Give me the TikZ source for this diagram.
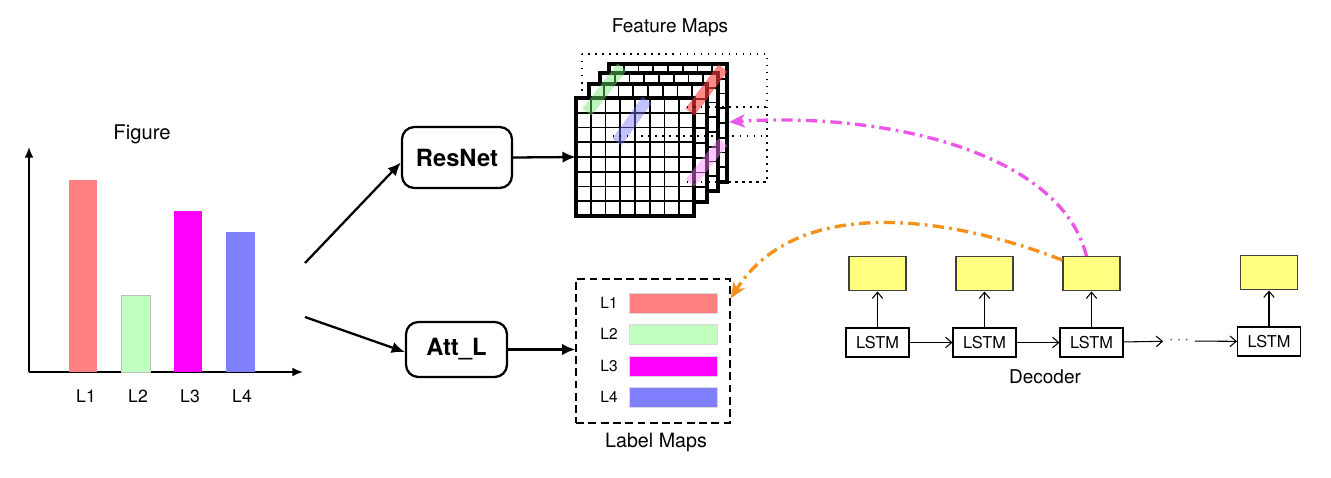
\documentclass[tikz,border=0pt]{standalone}
\usepackage{fontspec}
\setmainfont{TeX Gyre Heros}
\usepackage{tikz}
\usetikzlibrary{positioning,arrows.meta}

\definecolor{barred}{RGB}{255,128,128}
\definecolor{bargreen}{RGB}{192,255,192}
\definecolor{barmag}{RGB}{255,0,255}
\definecolor{barblue}{RGB}{128,128,255}
\definecolor{cellyellow}{RGB}{255,255,128}
\definecolor{attnpink}{RGB}{236,85,232}
\definecolor{attnorange}{RGB}{245,145,25}

\begin{document}
\begin{tikzpicture}[x=0.02cm,y=-0.02cm,
  netbox/.style={draw,line width=1.3pt,rounded corners=7pt,font=\fontsize{13.5}{15}\selectfont\bfseries},
  flow/.style={line width=1.3pt,-{Latex[length=7.5pt,width=6.5pt]}},
  axis/.style={line width=1pt,-{Latex[length=6pt,width=5pt]}},
  bar/.style={draw=black!25,line width=0.5pt},
  strip/.style={line width=6.5pt,opacity=0.45},
  dotline/.style={line width=0.7pt,dash pattern=on 0.8pt off 3.2pt},
  lstm/.style={draw,line width=0.6pt,minimum width=1.26cm,minimum height=0.58cm,inner sep=0pt,font=\fontsize{9.3}{10}\selectfont},
  ybox/.style={draw=black!75,line width=0.8pt,fill=cellyellow,minimum width=1.14cm,minimum height=0.68cm,inner sep=0pt},
  step arrow/.style={line width=0.6pt,-{Straight Barb[length=3.5pt,width=6pt]}},
  attn/.style={line width=1.9pt,dash pattern=on 6.5pt off 3pt on 1.5pt off 3pt,-{Stealth[length=9pt,width=7.5pt,inset=2.5pt]}}]
  \useasboundingbox (0,0) rectangle (1331,477);

  \draw[axis] (29,372) -- (29,147);
  \draw[axis] (29,372) -- (303,372);
  \fill[barred] (69,180) rectangle (97,372);
  \draw[bar,fill=bargreen] (121,295) rectangle (150,372);
  \fill[barmag] (174,211) rectangle (202,372);
  \fill[barblue] (226,232) rectangle (255,372);
  \node[font=\fontsize{11.5}{13}\selectfont] (figtitle) at (142,134) {Figure};
  \foreach \n/\x in {1/86,2/138,3/190,4/242}
    \node[font=\fontsize{10}{11}\selectfont] (bl\n) at (\x,396) {L\n};

  \node[netbox,minimum width=2.2cm,minimum height=1.22cm] (resnet) at (457,157.5) {ResNet};
  \node[netbox,minimum width=2.02cm,minimum height=1.1cm] (attl) at (456.5,349.5) {Att\_L};
  \coordinate (fig1) at (305,263);
  \coordinate (fig2) at (305,317);
  \draw[flow] (fig1) -- ([yshift=-0.1cm]resnet.west);
  \draw[flow] (fig2) -- ([yshift=-0.05cm]attl.west);

  \draw[dotline] (582,54) rectangle (767,182);
  \foreach \dx/\dy in {33/-34,24/-25,13/-14,0/0} {
    \begin{scope}[shift={(\dx,\dy)}]
      \fill[white] (576,98) rectangle (694,216);
      \foreach \k in {1,...,7}
        \draw[line width=0.9pt] (576+\k*14.75,98) -- (576+\k*14.75,216) (576,98+\k*14.75) -- (694,98+\k*14.75);
      \draw[line width=1.8pt] (576,98) rectangle (694,216);
    \end{scope}
  }
  \draw[strip,color={rgb,255:red,110;green,230;blue,110}] (587,112) -- (622,67);
  \draw[strip,opacity=0.6,color={rgb,255:red,255;green,60;blue,60}] (690,112) -- (723,68);
  \draw[strip,color={rgb,255:red,120;green,120;blue,255}] (617,142) -- (647,100);
  \draw[strip,color={rgb,255:red,255;green,130;blue,255}] (690,183) -- (723,142);
  \draw[dotline] (613,136) -- (767,136) (687,107) -- (767,107) (687,182) -- (767,182);
  \node[inner sep=0pt,minimum size=2.36cm] (fmap) at (635,157) {};
  \node[font=\fontsize{10.8}{12}\selectfont] (fmaptitle) at (670,28) {Feature Maps};
  \coordinate (fmapr) at (729,122);
  \draw[flow] (resnet.east) -- (fmap.west);

  \node[draw,line width=0.8pt,dash pattern=on 4.5pt off 2.5pt,minimum width=3.08cm,minimum height=2.88cm] (lmap) at (653,351) {};
  \foreach \n/\y/\c in {1/303/barred,2/334/bargreen,3/366/barmag,4/397/barblue} {
    \node[font=\fontsize{8.8}{10}\selectfont] (ll\n) at (609,\y) {L\n};
    \node[draw=black!15,fill=\c,minimum width=1.76cm,minimum height=0.4cm,inner sep=0pt] (lb\n) at (673,\y) {};
  }
  \node[font=\fontsize{11.2}{12}\selectfont] (lmaptitle) at (656,442) {Label Maps};
  \draw[flow] (attl.east) -- (attl.east -| lmap.west);

  \node[lstm] (lstm1) at (877.5,342.5) {LSTM};
  \node[lstm] (lstm2) at (984.5,342.5) {LSTM};
  \node[lstm] (lstm3) at (1091.5,342.5) {LSTM};
  \node[minimum width=0.62cm,inner sep=0pt,text=black!60] (dots) at (1179,341) {$\cdots$};
  \node[lstm] (lstm4) at (1269,341.5) {LSTM};
  \foreach \n in {1,...,4} {
    \node[ybox,above=0.72cm of lstm\n] (out\n) {};
    \draw[step arrow] (lstm\n) -- (out\n);
  }
  \draw[step arrow] (lstm1) -- (lstm2);
  \draw[step arrow] (lstm2) -- (lstm3);
  \draw[step arrow] (lstm3) -- (dots);
  \draw[step arrow] (dots) -- (lstm4);
  \node[font=\fontsize{10.8}{12}\selectfont] (dectitle) at (1045,377) {Decoder};

  \draw[attn,attnpink] ([xshift=-0.1cm]out3.north) .. controls (1060,150) and (880,112) .. (fmapr);
  \draw[attn,attnorange] ([yshift=-0.08cm]out3.north west) .. controls (960,220) and (800,190) .. ([yshift=-0.4cm]lmap.north east);
\end{tikzpicture}
\end{document}
